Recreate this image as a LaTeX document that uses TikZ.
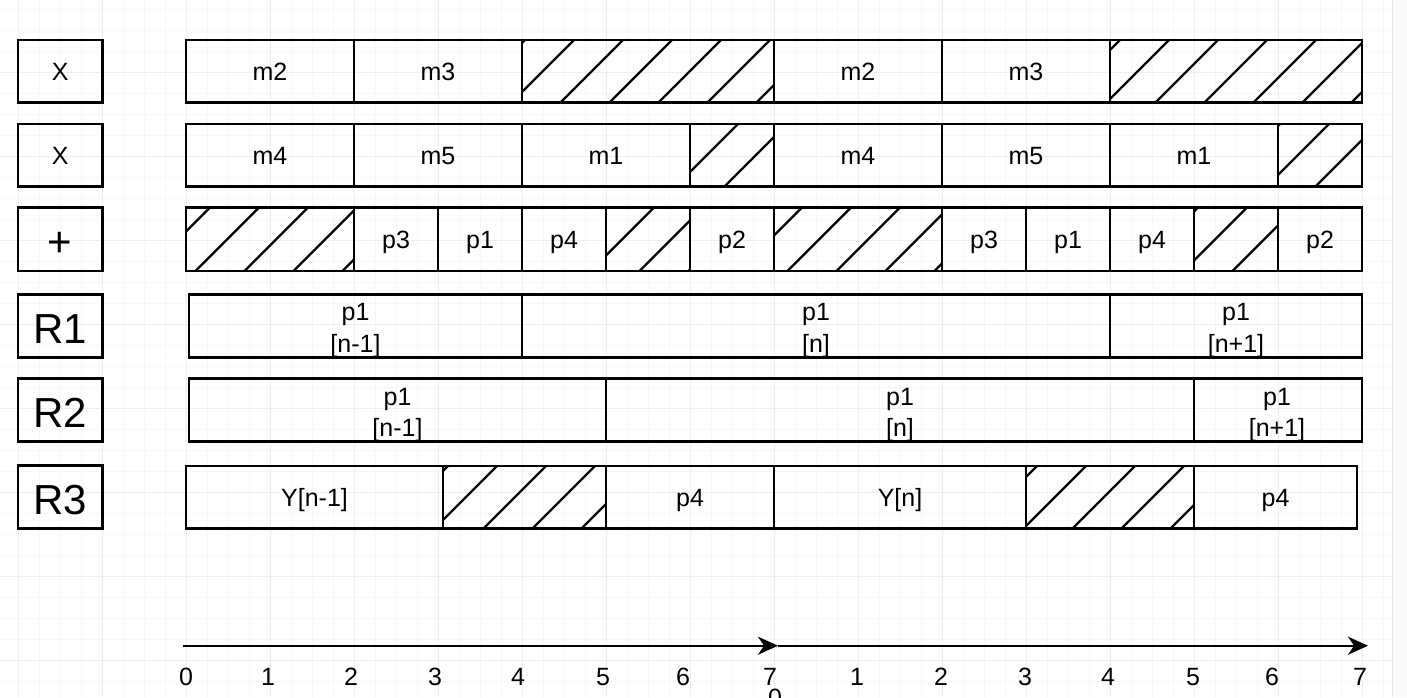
\documentclass[tikz,border=0pt]{standalone}
\usepackage{fontspec}
\setmainfont{Liberation Sans}
\usetikzlibrary{arrows.meta}
\newcommand\hatchfill[5]{%
  \begin{scope}
    \clip (#1,#2) rectangle (#3,#4);
    \foreach \k in {0,...,9}{\draw[hatchline] ({#5-98+49*\k},#2) -- ++({-(#4-#2)},{#4-#2});}
  \end{scope}}
\begin{document}
\begin{tikzpicture}[x=1pt,y=-1pt,
  cell/.style={draw=black, line width=2.4pt, rectangle, inner sep=0pt, outer sep=0pt, anchor=north west,
    font=\fontsize{25}{30}\selectfont, text height=18pt, text depth=0pt},
  biglab/.style={cell, font=\fontsize{42}{50}\selectfont, text height=34pt},
  txt/.style={inner sep=0pt, anchor=base, font=\fontsize{25}{30}\selectfont},
  hatchline/.style={line width=2.4pt, line cap=butt},
  gridminor/.style={draw=gray!6, line width=1pt},
  gridmajor/.style={draw=gray!13, line width=1pt},
  axis/.style={line width=2.4pt, -{Stealth[length=20pt,width=18pt,inset=6pt]}}
]
\useasboundingbox (0,0) rectangle (1407,697);
\clip (0,0) rectangle (1407,697);
\fill[white] (0,0) rectangle (1407,697);
% grid
\foreach \i in {0,...,66} \draw[gridminor] ({-3+21*\i},0) -- ({-3+21*\i},697);
\foreach \j in {0,...,32} \draw[gridminor] (0,{9+21*\j}) -- (1392,{9+21*\j});
\foreach \i in {0,...,16} \draw[gridmajor] ({18+84*\i},0) -- ({18+84*\i},697);
\foreach \j in {0,...,7} \draw[gridmajor] (0,{72+84*\j}) -- (1392,{72+84*\j});
\fill[gray!4] (1392,0) rectangle (1407,697);
\draw[gray!22, line width=1pt] (1392,0) -- (1392,697);

% row labels
\node[cell, minimum width=84.5pt, minimum height=62.5pt] (L1) at (18,40) {X};
\node[cell, minimum width=84.5pt, minimum height=62.5pt] (L2) at (18,124) {X};
\node[biglab, minimum width=84.5pt, minimum height=63.5pt] (L3) at (18,207.5) {+};
\node[biglab, minimum width=84.5pt, minimum height=63pt] (L4) at (18,294.5) {R1};
\node[biglab, minimum width=84.5pt, minimum height=63pt] (L5) at (18,378.5) {R2};
\node[biglab, minimum width=84.5pt, minimum height=63pt] (L6) at (18,465.5) {R3};

% hatching
\hatchfill{522}{40}{774}{102.5}{574}
\hatchfill{1110}{40}{1362}{102.5}{1169}
\hatchfill{690}{124}{774}{186.5}{738}
\hatchfill{1278}{124}{1362}{186.5}{1329}
\hatchfill{186}{207.5}{354}{271}{210}
\hatchfill{606}{207.5}{690}{271}{654}
\hatchfill{774}{207.5}{942}{271}{802}
\hatchfill{1194}{207.5}{1278}{271}{1247}
\hatchfill{443}{466}{606}{528.5}{497}
\hatchfill{1026}{466}{1194}{528.5}{1086}

% row 1
\node[cell, minimum width=168pt, minimum height=62.5pt] (c11) at (186,40) {m2};
\node[cell, minimum width=168pt, minimum height=62.5pt] (c12) at (354,40) {m3};
\node[cell, minimum width=252pt, minimum height=62.5pt] (c13) at (522,40) {};
\node[cell, minimum width=168pt, minimum height=62.5pt] (c14) at (774,40) {m2};
\node[cell, minimum width=168pt, minimum height=62.5pt] (c15) at (942,40) {m3};
\node[cell, minimum width=252pt, minimum height=62.5pt] (c16) at (1110,40) {};
% row 2
\node[cell, minimum width=168pt, minimum height=62.5pt] (c21) at (186,124) {m4};
\node[cell, minimum width=168pt, minimum height=62.5pt] (c22) at (354,124) {m5};
\node[cell, minimum width=168pt, minimum height=62.5pt] (c23) at (522,124) {m1};
\node[cell, minimum width=84pt, minimum height=62.5pt] (c24) at (690,124) {};
\node[cell, minimum width=168pt, minimum height=62.5pt] (c25) at (774,124) {m4};
\node[cell, minimum width=168pt, minimum height=62.5pt] (c26) at (942,124) {m5};
\node[cell, minimum width=168pt, minimum height=62.5pt] (c27) at (1110,124) {m1};
\node[cell, minimum width=84pt, minimum height=62.5pt] (c28) at (1278,124) {};
% row 3
\node[cell, minimum width=168pt, minimum height=63.5pt] (c31) at (186,207.5) {};
\node[cell, minimum width=84pt, minimum height=63.5pt] (c32) at (354,207.5) {p3};
\node[cell, minimum width=84pt, minimum height=63.5pt] (c33) at (438,207.5) {p1};
\node[cell, minimum width=84pt, minimum height=63.5pt] (c34) at (522,207.5) {p4};
\node[cell, minimum width=84pt, minimum height=63.5pt] (c35) at (606,207.5) {};
\node[cell, minimum width=84pt, minimum height=63.5pt] (c36) at (690,207.5) {p2};
\node[cell, minimum width=168pt, minimum height=63.5pt] (c37) at (774,207.5) {};
\node[cell, minimum width=84pt, minimum height=63.5pt] (c38) at (942,207.5) {p3};
\node[cell, minimum width=84pt, minimum height=63.5pt] (c39) at (1026,207.5) {p1};
\node[cell, minimum width=84pt, minimum height=63.5pt] (c3a) at (1110,207.5) {p4};
\node[cell, minimum width=84pt, minimum height=63.5pt] (c3b) at (1194,207.5) {};
\node[cell, minimum width=84pt, minimum height=63.5pt] (c3c) at (1278,207.5) {p2};
% row 4 (R1)
\node[cell, minimum width=333pt, minimum height=63pt] (c41) at (189,294.5) {};
\node[cell, minimum width=588pt, minimum height=63pt] (c42) at (522,294.5) {};
\node[cell, minimum width=252pt, minimum height=63pt] (c43) at (1110,294.5) {};
\node[txt] (t41a) at (355.5,320.6) {p1};
\node[txt] (t41b) at (355.5,352.6) {[n-1]};
\node[txt] (t42a) at (816,320.6) {p1};
\node[txt] (t42b) at (816,352.6) {[n]};
\node[txt] (t43a) at (1236,320.6) {p1};
\node[txt] (t43b) at (1236,352.6) {[n+1]};
% row 5 (R2)
\node[cell, minimum width=417pt, minimum height=63pt] (c51) at (189,378.5) {};
\node[cell, minimum width=588pt, minimum height=63pt] (c52) at (606,378.5) {};
\node[cell, minimum width=168pt, minimum height=63pt] (c53) at (1194,378.5) {};
\node[txt] (t51a) at (397.5,405) {p1};
\node[txt] (t51b) at (397.5,436.8) {[n-1]};
\node[txt] (t52a) at (900,405) {p1};
\node[txt] (t52b) at (900,436.8) {[n]};
\node[txt] (t53a) at (1277,405) {p1};
\node[txt] (t53b) at (1277,436.8) {[n+1]};
% row 6 (R3)
\node[cell, minimum width=257pt, minimum height=62.5pt] (c61) at (186,466) {Y[n-1]};
\node[cell, minimum width=163pt, minimum height=62.5pt] (c62) at (443,466) {};
\node[cell, minimum width=168pt, minimum height=62.5pt] (c63) at (606,466) {p4};
\node[cell, minimum width=252pt, minimum height=62.5pt] (c64) at (774,466) {Y[n]};
\node[cell, minimum width=168pt, minimum height=62.5pt] (c65) at (1026,466) {};
\node[cell, minimum width=163pt, minimum height=62.5pt] (c66) at (1194,466) {p4};

% time axis
\coordinate (a0) at (183,645.7);
\coordinate (a1) at (778,645.7);
\coordinate (a2) at (1368,645.7);
\draw[axis] (a0) -- (a1);
\draw[axis] (a1) -- (a2);

% tick labels
\node[txt] (k0) at (186,685) {0};
\node[txt] (k1) at (268,685) {1};
\node[txt] (k2) at (351,685) {2};
\node[txt] (k3) at (435,685) {3};
\node[txt] (k4) at (518,685) {4};
\node[txt] (k5) at (603,685) {5};
\node[txt] (k6) at (683,685) {6};
\node[txt] (k7) at (770,685) {7};
\node[txt] (k8) at (857,685) {1};
\node[txt] (k9) at (941,685) {2};
\node[txt] (k10) at (1025,685) {3};
\node[txt] (k11) at (1108,685) {4};
\node[txt] (k12) at (1193,685) {5};
\node[txt] (k13) at (1272,685) {6};
\node[txt] (k14) at (1360,685) {7};
\node[txt] (k15) at (775,706) {0};
\end{tikzpicture}
\end{document}
